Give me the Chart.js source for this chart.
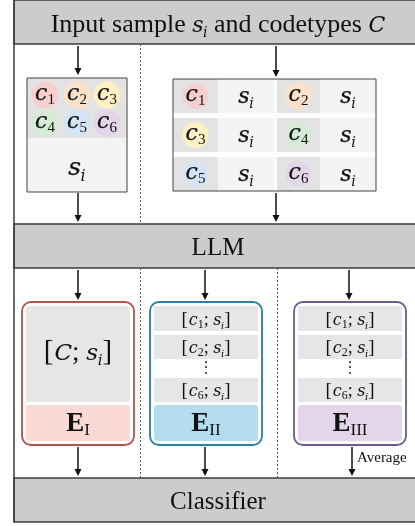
<!DOCTYPE html>
<html>
<head>
<meta charset="utf-8">
<script src="https://cdn.jsdelivr.net/npm/chart.js@4.4.1/dist/chart.umd.min.js"></script>
<style>
    html, body { margin: 0; padding: 0; background: #fff; }
    canvas { display: block; }
</style>
</head>
<body>
<canvas id="diagram" width="415" height="526"></canvas>
<script>

/* =========================
   DADOS
========================= */

const codetypes = ["1", "2", "3", "4", "5", "6"];
const codetypeColors = ["#f7cfcf", "#fde2c9", "#fff1c4", "#d6ebd4", "#d4e4f7", "#e3d6ea"];

const strategies = ["I", "II", "III"];
const strategyStroke = ["#b5504a", "#2a7fa6", "#6b5c8e"];
const strategyFill = ["#f9d8d5", "#b3dcef", "#e2d6e8"];

const stageLabels = ["LLM", "Classifier"];
const rowLabels = ["1", "2", "6"];
const averageLabel = "Average";

const SERIF = '"Liberation Serif", "Times New Roman", serif';
const MATH = '"DejaVu Serif", serif';


/* =========================
   TEXTO COM ÍNDICES
========================= */

function drawRuns(ctx, parts, cx, baseline, align) {

    let w = 0;

    parts.forEach(p => {
        ctx.font = p.font;
        w += ctx.measureText(p.t).width + (p.gap || 0);
    });

    let x = align === "left" ? cx : cx - w / 2;

    ctx.textBaseline = "alphabetic";
    ctx.textAlign = "left";

    parts.forEach(p => {
        ctx.font = p.font;
        ctx.fillText(p.t, x, baseline + (p.dy || 0));
        if (p.heavy) {
            ctx.strokeStyle = ctx.fillStyle;
            ctx.lineWidth = 0.25;
            ctx.strokeText(p.t, x, baseline + (p.dy || 0));
        }
        x += ctx.measureText(p.t).width + (p.gap || 0);
    });

}

const it = s => "italic " + s + "px " + MATH;
const rm = s => s + "px " + SERIF;
const bd = s => "bold " + s + "px " + SERIF;

function sI(size, heavy = true) {
    return [
        { t: "s", font: it(size), gap: -0.5, heavy },
        { t: "i", font: it(Math.round(size * 0.64)), dy: size * 0.22 }
    ];
}


/* =========================
   PLUGIN DE DESENHO
========================= */

const diagramPlugin = {

    id: "diagram",

    afterDraw(chart) {

        const ctx = chart.ctx;
        const sx = chart.scales.x;
        const sy = chart.scales.y;

        const X = v => sx.getPixelForValue(v);
        const Y = v => sy.getPixelForValue(v);

        const rect = (x0, y0, x1, y1) => {
            ctx.beginPath();
            ctx.rect(X(x0), Y(y0), X(x1) - X(x0), Y(y1) - Y(y0));
        };

        const rrect = (x0, y0, x1, y1, r) => {
            ctx.beginPath();
            ctx.roundRect(X(x0), Y(y0), X(x1) - X(x0), Y(y1) - Y(y0), r);
        };

        const arrow = (x, y0, y1) => {
            ctx.strokeStyle = "#111";
            ctx.fillStyle = "#111";
            ctx.lineWidth = 1.5;
            ctx.setLineDash([]);
            ctx.beginPath();
            ctx.moveTo(X(x), Y(y0));
            ctx.lineTo(X(x), Y(y1) - 6);
            ctx.stroke();
            ctx.beginPath();
            ctx.moveTo(X(x) - 3.5, Y(y1) - 7);
            ctx.lineTo(X(x) + 3.5, Y(y1) - 7);
            ctx.lineTo(X(x), Y(y1));
            ctx.closePath();
            ctx.fill();
        };

        const dotted = (x, y0, y1) => {
            ctx.strokeStyle = "#555";
            ctx.lineWidth = 1;
            ctx.setLineDash([2, 2]);
            ctx.beginPath();
            ctx.moveTo(X(x) + 0.5, Y(y0));
            ctx.lineTo(X(x) + 0.5, Y(y1));
            ctx.stroke();
            ctx.setLineDash([]);
        };

        const circleLabel = (i, cx, cy, r) => {
            ctx.fillStyle = codetypeColors[i];
            ctx.beginPath();
            ctx.arc(X(cx), Y(cy), r, 0, Math.PI * 2);
            ctx.fill();
            ctx.fillStyle = "#111";
            drawRuns(ctx, [
                { t: "c", font: it(22), heavy: true },
                { t: codetypes[i], font: rm(15), dy: 4 }
            ], X(cx), Y(cy) + 5);
        };

        ctx.save();

        /* fundo */
        ctx.fillStyle = "#fff";
        ctx.fillRect(0, 0, chart.width, chart.height);

        /* faixas cinzas */
        const bands = [[0, 44], [224, 268], [478, 522]];

        bands.forEach(b => {
            rect(14, b[0], 425, b[1]);
            ctx.fillStyle = "#cccccc";
            ctx.fill();
            ctx.strokeStyle = "#3d3d3d";
            ctx.lineWidth = 1.5;
            ctx.stroke();
        });

        ctx.strokeStyle = "#3d3d3d";
        ctx.lineWidth = 1.5;
        ctx.beginPath();
        ctx.moveTo(X(14), Y(0));
        ctx.lineTo(X(14), Y(522));
        ctx.stroke();

        ctx.fillStyle = "#111";

        drawRuns(ctx, [
            { t: "Input sample ", font: rm(26) },
            ...sI(22, false),
            { t: " and codetypes ", font: rm(26) },
            { t: "C", font: it(22) }
        ], X(218), Y(32));

        ctx.fillStyle = "#111";
        ctx.font = rm(25);
        ctx.textAlign = "center";
        ctx.textBaseline = "alphabetic";
        ctx.fillText(stageLabels[0], X(218), Y(255));
        ctx.fillText(stageLabels[1], X(218), Y(509));

        /* linhas pontilhadas */
        dotted(140, 44, 224);
        dotted(140, 268, 478);
        dotted(277, 268, 478);

        /* setas */
        arrow(78, 46, 75);
        arrow(276, 46, 77);
        arrow(78, 193, 222);
        arrow(276, 193, 222);

        arrow(78, 270, 300);
        arrow(205, 270, 300);
        arrow(349, 270, 300);

        arrow(78, 447, 476);
        arrow(205, 447, 476);
        arrow(352, 447, 476);

        ctx.fillStyle = "#111";
        drawRuns(ctx, [{ t: averageLabel, font: rm(15) }], X(357), Y(462), "left");

        /* caixa esquerda */
        rect(27, 78, 127, 138);
        ctx.fillStyle = "#e3e3e3";
        ctx.fill();
        rect(27, 138, 127, 192);
        ctx.fillStyle = "#f4f4f4";
        ctx.fill();
        rect(27, 78, 127, 192);
        ctx.strokeStyle = "#444";
        ctx.lineWidth = 1;
        ctx.stroke();

        const leftCols = [45, 77, 107];
        const leftRows = [95, 123];

        codetypes.forEach((c, i) => {
            circleLabel(i, leftCols[i % 3], leftRows[Math.floor(i / 3)], 13.5);
        });

        ctx.fillStyle = "#111";
        drawRuns(ctx, sI(25), X(77), Y(175));

        /* grade direita */
        const gridRows = [[79, 113], [118, 152], [157, 191]];
        const gridCols = [[173, 218, "c"], [218, 274, "s"], [277, 320, "c"], [320, 376, "s"]];

        rect(173, 79, 376, 191);
        ctx.fillStyle = "#fff";
        ctx.fill();

        gridRows.forEach((r, ri) => {
            gridCols.forEach((c, ci) => {
                rect(c[0], r[0], c[1], r[1]);
                ctx.fillStyle = c[2] === "c" ? "#e3e3e3" : "#f4f4f4";
                ctx.fill();
                const cx = (c[0] + c[1]) / 2;
                const cy = (r[0] + r[1]) / 2;
                if (c[2] === "c") {
                    circleLabel(ri * 2 + (ci >> 1), cx, cy, 13);
                } else {
                    ctx.fillStyle = "#111";
                    drawRuns(ctx, sI(22), X(cx), Y(cy) + 7);
                }
            });
        });

        rect(173, 79, 376, 191);
        ctx.strokeStyle = "#444";
        ctx.lineWidth = 1;
        ctx.stroke();

        /* caixas de embedding */
        const boxX = [22, 150, 294];

        strategies.forEach((s, k) => {

            const x0 = boxX[k];
            const x1 = x0 + 112;

            rrect(x0, 302, x1, 445, 9);
            ctx.fillStyle = "#fff";
            ctx.fill();

            if (k === 0) {
                rrect(x0 + 4, 306, x1 - 4, 402, 3);
                ctx.fillStyle = "#e6e6e6";
                ctx.fill();
                ctx.fillStyle = "#111";
                drawRuns(ctx, [
                    { t: "[", font: rm(29), gap: 1 },
                    { t: "C", font: it(23) },
                    { t: "; ", font: rm(27) },
                    ...sI(23, false),
                    { t: "]", font: rm(29) }
                ], X((x0 + x1) / 2), Y(360));
            } else {
                const rows = [[306, 331], [335, 359], [378, 402]];
                rows.forEach((r, ri) => {
                    rect(x0 + 4, r[0], x1 - 4, r[1]);
                    ctx.fillStyle = "#e6e6e6";
                    ctx.fill();
                    ctx.fillStyle = "#111";
                    drawRuns(ctx, [
                        { t: "[", font: rm(19), gap: 1 },
                        { t: "c", font: it(16) },
                        { t: rowLabels[ri], font: rm(12), dy: 3 },
                        { t: "; ", font: rm(18) },
                        ...sI(16, false),
                        { t: "]", font: rm(19) }
                    ], X((x0 + x1) / 2), Y(r[1]) - 6);
                });
                ctx.fillStyle = "#222";
                [362, 367, 373].forEach(d => {
                    ctx.beginPath();
                    ctx.arc(X((x0 + x1) / 2), Y(d), 1, 0, Math.PI * 2);
                    ctx.fill();
                });
            }

            rrect(x0 + 4, 405, x1 - 4, 441, 3);
            ctx.fillStyle = strategyFill[k];
            ctx.fill();

            ctx.fillStyle = "#111";
            drawRuns(ctx, [
                { t: "E", font: bd(27) },
                { t: s, font: rm(17), dy: 4 }
            ], X((x0 + x1) / 2), Y(431));

            rrect(x0, 302, x1, 445, 9);
            ctx.strokeStyle = strategyStroke[k];
            ctx.lineWidth = 1.8;
            ctx.stroke();

        });

        ctx.restore();

    }

};


/* =========================
   CRIAR GRÁFICO
========================= */

new Chart(document.getElementById("diagram"), {

    type: "scatter",

    data: {
        datasets: [{ data: [] }]
    },

    options: {
        responsive: false,
        animation: false,
        events: [],
        layout: { padding: 0 },
        plugins: {
            legend: { display: false },
            tooltip: { enabled: false }
        },
        scales: {
            x: { type: "linear", min: 0, max: 415, display: false },
            y: { type: "linear", min: 0, max: 526, reverse: true, display: false }
        }
    },

    plugins: [diagramPlugin]

});

</script>
</body>
</html>
